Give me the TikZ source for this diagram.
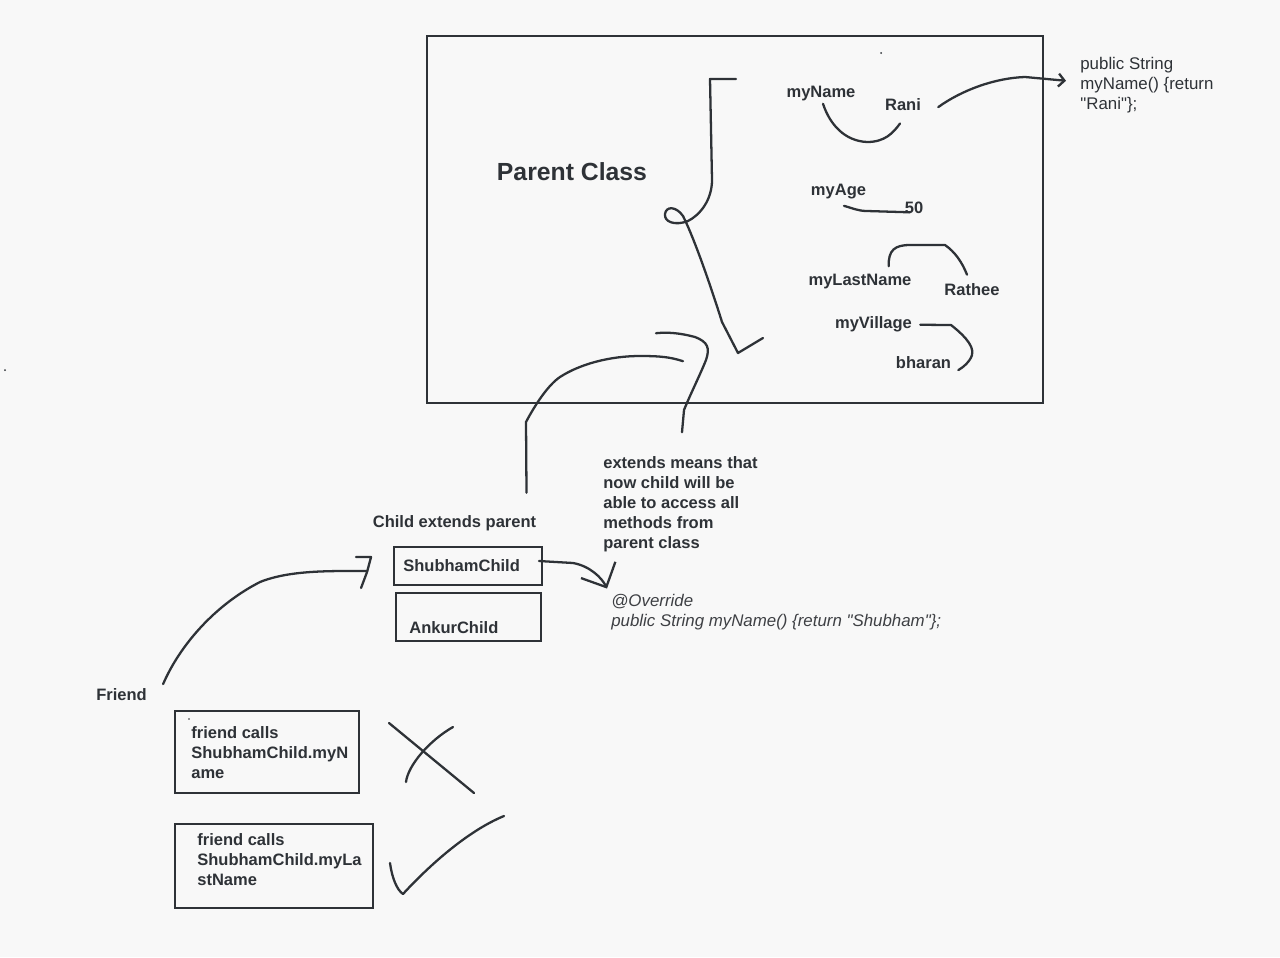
\documentclass[tikz,border=0pt]{standalone}
\usepackage{fontspec}
\setmainfont{Liberation Sans}
\usetikzlibrary{arrows.meta,positioning,calc}
\definecolor{inkgray}{RGB}{46,50,55}
\definecolor{codegray}{RGB}{62,64,68}
\definecolor{paper}{RGB}{248,248,248}

\begin{document}
\begin{tikzpicture}[
    x=0.02cm, y=-0.02cm,
    every node/.style={inner sep=0pt, text=inkgray},
    field/.style={font=\fontsize{9.4}{11.3}\selectfont\bfseries, anchor=base},
    note/.style={font=\fontsize{9.4}{11.3}\selectfont\bfseries, align=left, anchor=base west},
    codetext/.style={font=\fontsize{9.6}{11.3}\selectfont, align=left, anchor=base west},
    box/.style={rectangle, draw=inkgray, line width=1.1pt},
    stroke/.style={draw=inkgray, line width=1.3pt, line cap=round, line join=round},
    arrow/.style={stroke, -{Straight Barb[length=0.12cm, width=0.26cm]}},
    bigarrow/.style={stroke, -{Straight Barb[length=0.38cm, width=0.76cm]}}
]

\fill[paper] (0,0) rectangle (1280,957);

% Parent class with its fields
\node[box, line width=1.4pt, minimum width=12.32cm, minimum height=7.34cm] (parent) at (735,219.5) {};
\node[font=\fontsize{14.1}{16}\selectfont\bfseries, anchor=base] (parenttitle) at (572,180) {Parent Class};
\node[field] (myname) at (821,97) {myName};
\node[field] (rani) at (903,110) {Rani};
\node[field] (myage) at (838.5,195) {myAge};
\node[field] (agevalue) at (914,213) {50};
\node[field] (lastname) at (860,285) {myLastName};
\node[field] (rathee) at (972,295) {Rathee};
\node[field] (village) at (873.5,328) {myVillage};
\node[field] (bharan) at (923.5,368) {bharan};
% base of a multi-line node is its last line
\node[codetext] (namecode) at (1080,109) {public String\\myName() \{return\\\textquotedbl Rani\textquotedbl\};};

% Child classes
\node[field] (childtitle) at (454.5,527) {Child extends parent};
\node[box, minimum width=2.96cm, minimum height=0.76cm] (shubham) at (468,566) {};
\node[note] (shubhamtext) at (403,571) {ShubhamChild};
\node[box, minimum width=2.9cm, minimum height=0.96cm] (ankur) at (468.5,617) {};
\node[note] (ankurtext) at (409,633) {AnkurChild};
\node[note] (extendsnote) at (603,548) {extends means that\\now child will be\\able to access all\\methods from\\parent class};
\node[codetext, font=\fontsize{9.6}{11.3}\selectfont\itshape, text=codegray] (override) at (611,626) {@Override\\public String myName() \{return \textquotedbl Shubham\textquotedbl\};};

% Friend and its calls
\node[field] (friend) at (121.5,700) {Friend};
\node[box, minimum width=3.68cm, minimum height=1.64cm] (callname) at (267,752) {};
\node[note] (callnametext) at (191,778) {friend calls\\ShubhamChild.myN\\ame};
\node[box, minimum width=3.96cm, minimum height=1.68cm] (calllast) at (274,866) {};
\node[note] (calllasttext) at (197,885) {friend calls\\ShubhamChild.myLa\\stName};

% Brace round the fields
\draw[stroke] (736,79) -- (710,79) -- (712,180)
    .. controls (712,200) and (700,215) .. (688,221)
    .. controls (675,226) and (664,222) .. (665,214)
    .. controls (666,206) and (676,206) .. (683,216)
    .. controls (695,240) and (712,290) .. (722,322)
    -- (738,353) -- (763,338);

% Field connectors
\draw[stroke] ($(myname.south)+(2,3)$) .. controls (830,125) and (845,141) .. (867,142)
    .. controls (885,142) and (893,133) .. ($(rani.south)+(-3,13)$);
\draw[stroke] ($(myage.south)+(5.5,7)$) .. controls (852,208) and (858,211) .. (867,211)
    -- ($(agevalue.center)+(-4,5)$);
\draw[stroke] ($(lastname.north east)+(-23,-7)$) .. controls (888,250) and (895,245) .. (910,245)
    -- (945,245) .. controls (955,252) and (962,262) .. ($(rathee.north)+(-5,-8)$);
\draw[stroke] ($(village.east)+(8,1)$) -- (951,325)
    .. controls (960,332) and (975,345) .. (972,355)
    .. controls (970,362) and (962,368) .. ($(bharan.east)+(7,8)$);
\draw[arrow] ($(rani.east)+(17,3)$) .. controls (962,90) and (995,78) .. (1025,77)
    -- ($(namecode.west)+(-14,-4)$);

% Extends connectors
\draw[stroke] ($(childtitle.north)+(72,-22)$) -- (526,422)
    .. controls (535,405) and (548,385) .. (560,377)
    .. controls (580,364) and (610,356) .. (640,356)
    .. controls (660,356) and (670,357) .. ($(parent.south)+(-52,-43)$);
\draw[stroke] ($(extendsnote.north west)+(79,-24)$) -- (684,410)
    .. controls (690,395) and (700,375) .. (706,360)
    .. controls (710,348) and (708,342) .. (695,337)
    .. controls (680,333) and (668,332) .. ($(parent.south)+(-79,-71)$);
\draw[bigarrow] ($(shubham.east)+(-4,-5)$) -- (573,563)
    .. controls (590,566) and (602,578) .. ($(override.north west)+(-4,-5)$);

% Friend connector
\draw[stroke] ($(friend.east)+(16,-10)$) .. controls (180,645) and (215,605) .. (260,582)
    .. controls (290,570) and (330,571) .. ($(shubham.west)+(-26,5)$);
\draw[stroke] ($(shubham.west)+(-37,-9)$) -- ++(15,0) -- ++(-4,15) -- ++(-6,16);

% Cross and tick
\draw[stroke] (389,723) -- (474,793);
\draw[stroke] (453,727) .. controls (430,740) and (408,765) .. (406,782);
\draw[stroke] (390,863) .. controls (392,878) and (397,890) .. (403,894)
    .. controls (425,870) and (465,832) .. (504,816);

% stray dots
\fill[inkgray] (881,53) circle (1);
\fill[inkgray] (5,370) circle (1);
\fill[inkgray] (189,719) circle (0.8);

\end{tikzpicture}
\end{document}
